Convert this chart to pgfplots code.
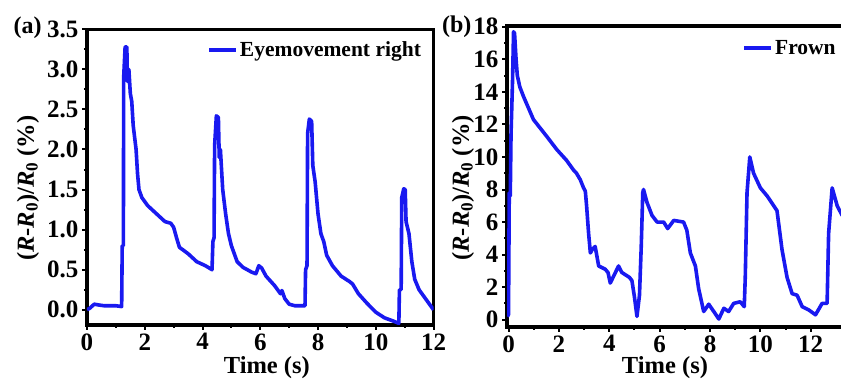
\documentclass[border=0pt]{standalone}
\usepackage{pgfplots}
\pgfplotsset{compat=1.18}
\usepackage{fontspec}
\setmainfont{Liberation Serif}
\definecolor{cblue}{RGB}{25,25,240}
\begin{document}
\begin{tikzpicture}
\useasboundingbox (0pt,0pt) rectangle (841pt,387pt);
\clip (0pt,0pt) rectangle (841pt,387pt);
\pgfplotsset{
 myax/.style={
  scale only axis,
  axis line style={line width=3.5pt},
  tick pos=left, tick align=outside,
  major tick length=5pt, minor tick length=3pt,
  every tick/.style={black, line width=2pt},
  minor x tick num=1, minor y tick num=1,
  tick label style={font=\fontsize{25}{25}\selectfont\bfseries},
  /pgf/number format/assume math mode=true,
  label style={font=\fontsize{24.5}{25}\selectfont\bfseries},
  legend style={draw=none, fill=none, font=\fontsize{21.5}{22}\selectfont\bfseries, inner sep=0pt},
  legend image code/.code={\draw[##1, line width=3.6pt] (0pt,0pt) -- (27pt,0pt);},
  legend cell align=left,
 }
}
\begin{axis}[myax, at={(87pt,62pt)}, anchor=south west, width=346.5pt, height=295.7pt,
 xmin=0, xmax=12, ymin=-0.19, ymax=3.5,
 xtick={0,2,...,12}, ytick={0,0.5,...,3.5},
 yticklabels={0.0,0.5,1.0,1.5,2.0,2.5,3.0,3.5},
 xlabel={Time (s)},
 ylabel={(\textit{R}-\textit{R}\textsubscript{0})/\textit{R}\textsubscript{0} (\%)},
 xlabel style={at={(axis description cs:0.519,-0.145)}, anchor=center},
 ylabel style={at={(axis description cs:-0.17,0.463)}, anchor=center},
 legend style={at={(axis description cs:0.97,0.929)}, anchor=east},
]
\addplot[cblue, line width=3.6pt, line join=round] coordinates {
(0,0.0) (0.1,0.02) (0.25,0.07) (0.4,0.06) (0.6,0.05) (0.8,0.05) (1.0,0.05) (1.2,0.04)
(1.22,0.8) (1.26,0.8) (1.27,2.9) (1.32,3.28) (1.38,3.28) (1.4,2.85) (1.45,3.0) (1.5,2.7)
(1.55,2.6) (1.6,2.3) (1.7,2.0) (1.75,1.7) (1.8,1.5) (1.9,1.4) (2.1,1.3) (2.4,1.2)
(2.7,1.1) (2.9,1.08) (3.0,1.03) (3.1,0.9) (3.2,0.78) (3.5,0.7) (3.8,0.6) (4.1,0.55)
(4.33,0.5) (4.36,0.85) (4.4,0.9) (4.42,2.05) (4.48,2.42) (4.55,2.4) (4.58,1.9) (4.62,2.0)
(4.7,1.5) (4.8,1.2) (4.9,0.95) (5.0,0.8) (5.1,0.7) (5.2,0.6) (5.4,0.53) (5.7,0.47)
(5.85,0.45) (5.95,0.55) (6.05,0.52) (6.2,0.42) (6.5,0.3) (6.7,0.2) (6.75,0.24) (6.85,0.14)
(7.0,0.07) (7.2,0.05) (7.55,0.05) (7.57,0.5) (7.62,0.55) (7.64,2.2) (7.7,2.38) (7.78,2.35)
(7.82,1.8) (7.9,1.6) (8.0,1.2) (8.1,0.95) (8.2,0.85) (8.3,0.68) (8.5,0.55) (8.8,0.42)
(9.1,0.35) (9.2,0.32) (9.4,0.2) (9.7,0.08) (10.0,-0.03) (10.3,-0.1) (10.6,-0.14) (10.8,-0.17)
(10.82,0.25) (10.88,0.25) (10.9,1.4) (10.97,1.51) (11.02,1.5) (11.05,1.1) (11.15,0.95)
(11.25,0.6) (11.35,0.38) (11.5,0.25) (11.7,0.15) (11.9,0.05) (12.0,0.0)
};
\addlegendentry{Eyemovement right}
\end{axis}
\node[font=\fontsize{24}{24}\selectfont\bfseries] at (27.5pt,359pt) {(a)};

\begin{axis}[myax, at={(507pt,60pt)}, anchor=south west, width=339pt, height=301pt,
 xmin=-0.06, xmax=13.4, ymin=-0.45, ymax=18.05,
 xtick={0,2,...,12}, ytick={0,2,...,18},
 xlabel={Time (s)},
 ylabel={(\textit{R}-\textit{R}\textsubscript{0})/\textit{R}\textsubscript{0} (\%)},
 xlabel style={at={(axis description cs:0.466,-0.136)}, anchor=center},
 ylabel style={at={(axis description cs:-0.13,0.462)}, anchor=center},
 legend style={at={(axis description cs:0.976,0.927)}, anchor=east},
]
\addplot[cblue, line width=3.6pt, line join=round] coordinates {
(-0.05,0.2) (0.0,0.3) (0.03,7.8) (0.07,7.6) (0.1,11.4) (0.16,14.7) (0.2,17.7) (0.24,17.6)
(0.3,16.0) (0.35,15.0) (0.45,14.3) (0.6,13.7) (0.99,12.3) (1.52,11.26) (1.92,10.45)
(2.3,9.8) (2.58,9.2) (2.7,9.0) (2.85,8.6) (2.98,8.1) (3.05,7.9) (3.1,7.0) (3.18,5.3)
(3.25,4.1) (3.32,4.3) (3.44,4.5) (3.58,3.3) (3.84,3.1) (3.95,2.9) (4.04,2.25) (4.15,2.6)
(4.37,3.3) (4.5,2.9) (4.7,2.7) (4.8,2.6) (4.9,2.4) (5.0,1.4) (5.1,0.2) (5.2,1.5)
(5.27,4.5) (5.33,7.8) (5.36,8.0) (5.5,7.2) (5.7,6.4) (5.9,6.0) (6.16,6.0) (6.32,5.6)
(6.56,6.1) (6.95,6.0) (7.08,5.5) (7.22,4.1) (7.42,3.3) (7.55,1.9) (7.75,0.5) (7.95,0.95)
(8.15,0.5) (8.35,0.04) (8.55,0.7) (8.74,0.5) (8.94,1.0) (9.2,1.1) (9.36,0.8) (9.4,2.6)
(9.47,7.8) (9.58,10.0) (9.73,9.0) (10.0,8.1) (10.27,7.6) (10.53,7.0) (10.66,6.7)
(10.86,4.3) (11.06,2.6) (11.26,1.6) (11.46,1.5) (11.66,0.8) (11.92,0.6) (12.19,0.3)
(12.45,1.0) (12.65,1.0) (12.71,5.3) (12.85,8.1) (13.05,7.0) (13.25,6.4)
};
\addlegendentry{Frown}
\end{axis}
\node[font=\fontsize{24}{24}\selectfont\bfseries] at (456.7pt,360pt) {(b)};
\end{tikzpicture}
\end{document}
